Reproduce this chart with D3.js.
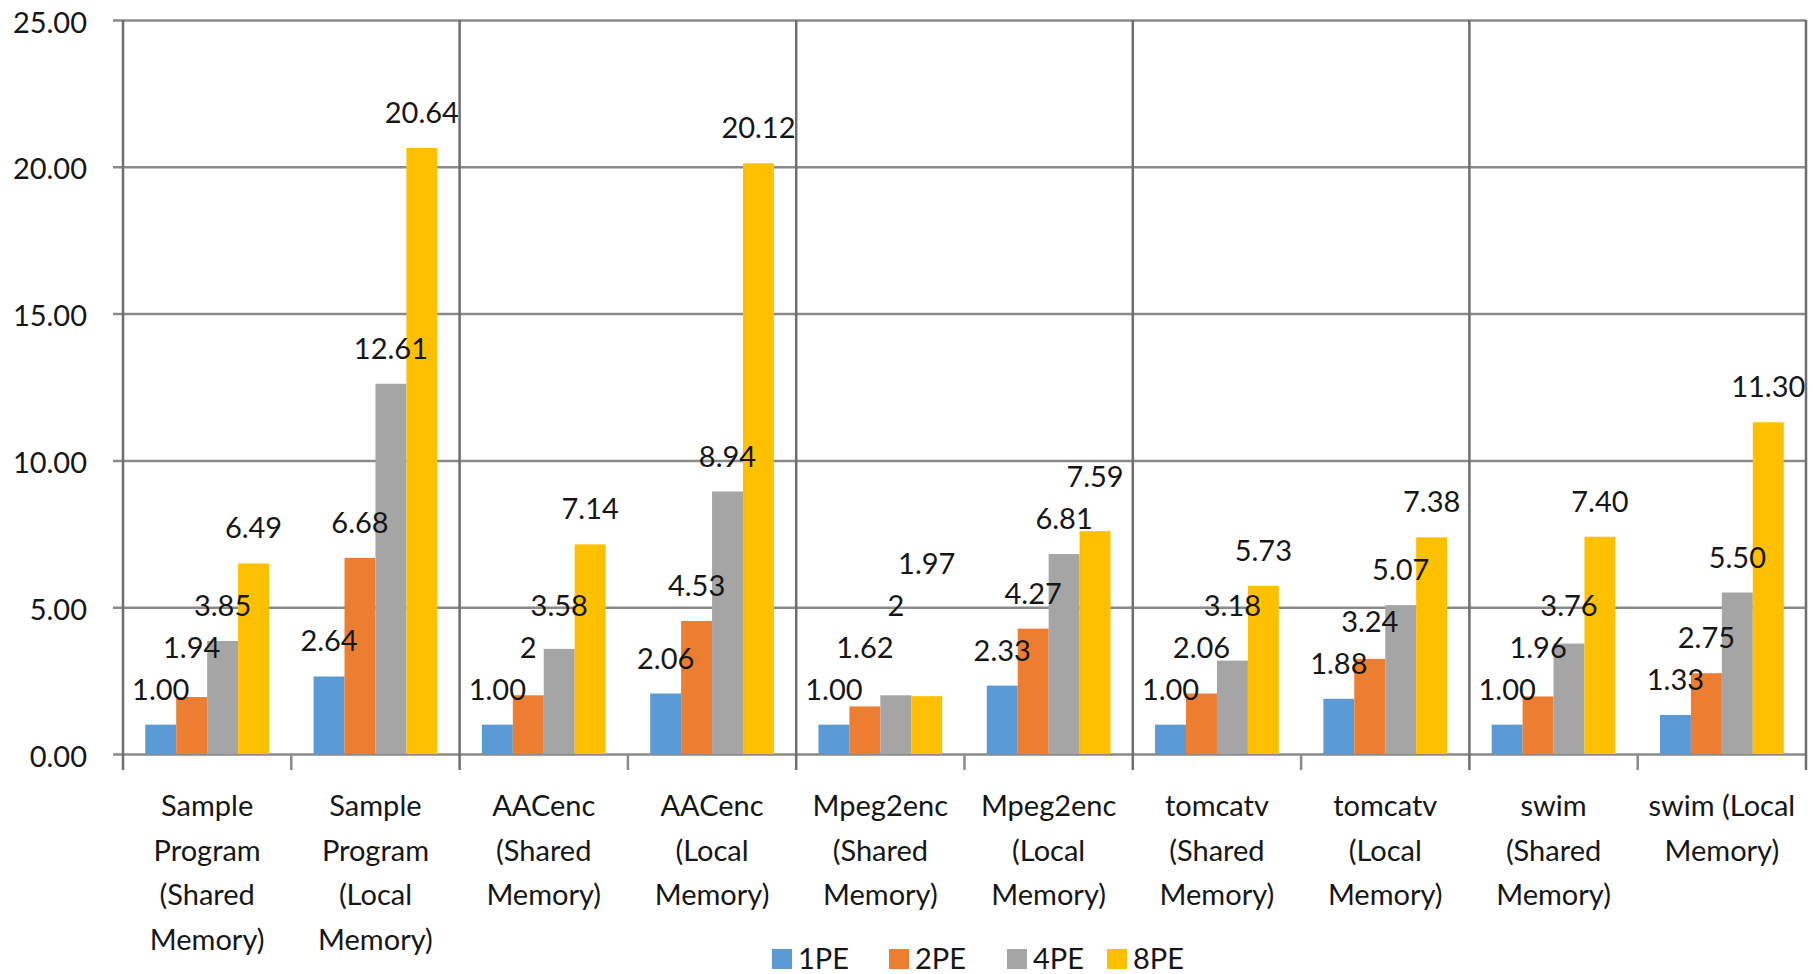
<!DOCTYPE html>
<html>
<head>
<meta charset="utf-8">
<script src="https://cdn.jsdelivr.net/npm/d3@7"></script>
<style>
  html, body { margin: 0; padding: 0; background: #fff; }
  svg { display: block; font-family: Lato, "Open Sans", sans-serif; }
</style>
</head>
<body>
<svg id="chart" width="1813" height="974"></svg>
<script>
// ---- data ----
const categories = [
  ["Sample", "Program", "(Shared", "Memory)"],
  ["Sample", "Program", "(Local", "Memory)"],
  ["AACenc", "(Shared", "Memory)"],
  ["AACenc", "(Local", "Memory)"],
  ["Mpeg2enc", "(Shared", "Memory)"],
  ["Mpeg2enc", "(Local", "Memory)"],
  ["tomcatv", "(Shared", "Memory)"],
  ["tomcatv", "(Local", "Memory)"],
  ["swim", "(Shared", "Memory)"],
  ["swim (Local", "Memory)"]
];
const seriesNames = ["1PE", "2PE", "4PE", "8PE"];
const pe1 = [1.00, 2.64, 1.00, 2.06, 1.00, 2.33, 1.00, 1.88, 1.00, 1.33];
const pe2 = [1.94, 6.68, 2, 4.53, 1.62, 4.27, 2.06, 3.24, 1.96, 2.75];
const pe4 = [3.85, 12.61, 3.58, 8.94, 2, 6.81, 3.18, 5.07, 3.76, 5.50];
const pe8 = [6.49, 20.64, 7.14, 20.12, 1.97, 7.59, 5.73, 7.38, 7.40, 11.30];
const labelText = [
  ["1.00", "1.94", "3.85", "6.49"],
  ["2.64", "6.68", "12.61", "20.64"],
  ["1.00", "2", "3.58", "7.14"],
  ["2.06", "4.53", "8.94", "20.12"],
  ["1.00", "1.62", "2", "1.97"],
  ["2.33", "4.27", "6.81", "7.59"],
  ["1.00", "2.06", "3.18", "5.73"],
  ["1.88", "3.24", "5.07", "7.38"],
  ["1.00", "1.96", "3.76", "7.40"],
  ["1.33", "2.75", "5.50", "11.30"]
];
const yTicks = [0, 5, 10, 15, 20, 25];
const colors = ["#5B9BD5", "#ED7D31", "#A5A5A5", "#FFC000"];

const seriesValues = [pe1, pe2, pe4, pe8];

// ---- layout ----
const svg = d3.select("#chart");
const plotL = 123, plotR = 1806, plotT = 20, plotB = 754;
const gridColor = "#8a8a8a";
const textColor = "#161616";
const fontSize = 29;

const x0 = d3.scaleBand().domain(d3.range(categories.length)).range([plotL, plotR]).padding(0);
const x1 = d3.scaleBand().domain(d3.range(seriesNames.length)).range([0, x0.bandwidth()])
  .paddingInner(0).paddingOuter(0.72);
const y = d3.scaleLinear().domain([0, 25]).range([plotB, plotT]);

// horizontal gridlines + y labels
const yAxis = d3.axisLeft(y).tickValues(yTicks).tickFormat(d3.format(".2f"))
  .tickSize(0).tickPadding(0);
const gy = svg.append("g").attr("transform", `translate(${plotL - 10},0)`).call(yAxis);
gy.select(".domain").remove();
gy.selectAll(".tick line").attr("x1", 0).attr("x2", plotR - plotL + 10)
  .attr("stroke", gridColor).attr("stroke-width", 2.5);
gy.selectAll(".tick text").attr("x", 87 - (plotL - 10)).attr("dy", null)
  .attr("y", 12)
  .attr("text-anchor", "end").attr("fill", textColor)
  .style("font-size", fontSize + "px").style("font-family", "Lato, sans-serif");

// vertical lines: full-height at every other boundary, short ticks otherwise
const boundaries = d3.range(categories.length + 1);
svg.append("g").selectAll("line").data(boundaries).join("line")
  .attr("x1", d => d === categories.length ? plotR : x0(d))
  .attr("x2", d => d === categories.length ? plotR : x0(d))
  .attr("y1", d => d % 2 === 0 ? plotT : plotB)
  .attr("y2", plotB + 16)
  .attr("stroke", d => d % 2 === 0 ? "#6e6e6e" : gridColor)
  .attr("stroke-width", 2.5);

// bars
const barData = [];
categories.forEach((c, i) => {
  seriesValues.forEach((vals, k) => {
    barData.push({ i, k, v: vals[i], label: labelText[i][k] });
  });
});
svg.append("g").selectAll("rect").data(barData).join("rect")
  .attr("x", d => x0(d.i) + x1(d.k))
  .attr("width", x1.bandwidth())
  .attr("y", d => y(d.v))
  .attr("height", d => y(0) - y(d.v))
  .attr("fill", d => colors[d.k]);

// data labels with simple upward collision avoidance within each group
const lblG = svg.append("g");
const STEP = 42, OFFSET = 25;
categories.forEach((c, i) => {
  let prev = null;
  seriesValues.forEach((vals, k) => {
    const cx = x0(i) + x1(k) + x1.bandwidth() / 2;
    let base = y(vals[i]) - OFFSET;
    const t = lblG.append("text")
      .attr("x", cx).attr("text-anchor", "middle")
      .attr("fill", textColor)
      .style("font-size", fontSize + "px")
      .text(labelText[i][k]);
    const w = t.node().getComputedTextLength();
    if (prev) {
      const overlapX = Math.abs(cx - prev.cx) < (w + prev.w) / 2;
      if (overlapX) base = Math.min(base, prev.base - STEP);
    }
    t.attr("y", base);
    prev = { cx, w, base };
  });
});

// category labels
const catG = svg.append("g");
categories.forEach((lines, i) => {
  const cx = x0(i) + x0.bandwidth() / 2;
  const t = catG.append("text")
    .attr("x", cx)
    .attr("text-anchor", "middle")
    .attr("fill", textColor)
    .style("font-size", fontSize + "px");
  lines.forEach((ln, j) => {
    t.append("tspan").attr("x", cx).attr("y", 816 + j * 44.5).text(ln);
  });
});

// legend
const legendX = [772, 889, 1007, 1107];
const lg = svg.append("g");
seriesNames.forEach((s, k) => {
  lg.append("rect").attr("x", legendX[k]).attr("y", 949).attr("width", 20).attr("height", 20)
    .attr("fill", colors[k]);
  lg.append("text").attr("x", legendX[k] + 26).attr("y", 969)
    .attr("fill", textColor).style("font-size", fontSize + "px").text(s);
});
</script>
</body>
</html>
